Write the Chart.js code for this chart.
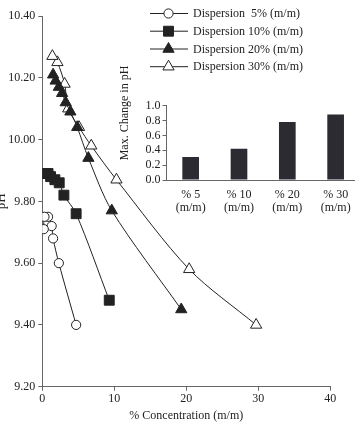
<!DOCTYPE html>
<html>
<head>
<meta charset="utf-8">
<script src="https://cdn.jsdelivr.net/npm/chart.js@4.4.1/dist/chart.umd.min.js"></script>
<style>
html, body { margin: 0; padding: 0; width: 355px; height: 425px; overflow: hidden; background: #fff; }
#main { position: absolute; left: -6px; top: 0; width: 361px; height: 425px; }
#inset { position: absolute; left: 100px; top: 60px; width: 270px; height: 160px; }
</style>
</head>
<body>
<canvas id="main" width="361" height="425"></canvas>
<canvas id="inset" width="270" height="160"></canvas>
<script>
// concentration (% m/m) and pH for each dispersion
const conc5 = [4.7, 2.3, 1.5, 1.3, 0.8, 0.3, 0.2];
const ph5 = [9.40, 9.60, 9.68, 9.72, 9.75, 9.75, 9.71];
const conc10 = [9.3, 4.7, 3.0, 2.35, 1.75, 1.15, 0.8, 0.35];
const ph10 = [9.48, 9.76, 9.82, 9.86, 9.87, 9.88, 9.89, 9.89];
const conc20 = [19.3, 9.65, 6.4, 4.85, 3.9, 3.25, 2.75, 2.3, 1.85, 1.5];
const ph20 = [9.45, 9.77, 9.94, 10.04, 10.09, 10.12, 10.15, 10.17, 10.19, 10.21];
const conc30 = [29.7, 20.4, 10.3, 6.8, 5.1, 3.6, 3.1, 2.1, 1.4];
const ph30 = [9.40, 9.58, 9.87, 9.98, 10.04, 10.10, 10.18, 10.25, 10.27];
const seriesNames = ["Dispersion  5% (m/m)", "Dispersion 10% (m/m)", "Dispersion 20% (m/m)", "Dispersion 30% (m/m)"];

// inset: max change in pH
const barLabels = [["% 5", "(m/m)"], ["% 10", "(m/m)"], ["% 20", "(m/m)"], ["% 30", "(m/m)"]];
const maxChange = [0.31, 0.42, 0.78, 0.88];

const FONT = "'Liberation Serif', 'Times New Roman', serif";
const INK = "#222";
const AXIS = "#666";
const SHIFT = 6; // main canvas sits 6px left of the page

function pts(xs, ys) {
    let out = [];
    for (let i = 0; i < xs.length; i++) {
        out.push({ x: xs[i], y: ys[i] });
    }
    return out;
}

const styles = [
    { pointStyle: "circle", radius: 4.6, fill: "#fff" },
    { pointStyle: "rect", radius: 7, fill: INK },
    { pointStyle: "triangle", radius: 6.5, fill: INK },
    { pointStyle: "triangle", radius: 6.5, fill: "#fff" },
];
const allData = [pts(conc5, ph5), pts(conc10, ph10), pts(conc20, ph20), pts(conc30, ph30)];

let datasets = [];
for (let j = 0; j < allData.length; j++) {
    datasets.push({
        label: seriesNames[j],
        data: allData[j],
        showLine: true,
        tension: 0.3,
        borderColor: INK,
        borderWidth: 1,
        pointStyle: styles[j].pointStyle,
        pointRadius: styles[j].radius,
        pointBackgroundColor: styles[j].fill,
        pointBorderColor: INK,
        pointBorderWidth: 1,
    });
}

// legend drawn by hand: short line with the marker in its middle
const legendPlugin = {
    id: "lineLegend",
    afterDraw(chart) {
        const ctx = chart.ctx;
        const rows = [13.5, 31.2, 49, 66.7];
        ctx.save();
        for (let j = 0; j < datasets.length; j++) {
            const y = rows[j];
            ctx.strokeStyle = INK;
            ctx.lineWidth = 1;
            ctx.beginPath();
            ctx.moveTo(150 + SHIFT, y);
            ctx.lineTo(188 + SHIFT, y);
            ctx.stroke();
            ctx.fillStyle = styles[j].fill;
            Chart.helpers.drawPoint(ctx, {
                pointStyle: styles[j].pointStyle,
                radius: styles[j].radius,
                rotation: 0,
                borderWidth: 1,
            }, 168.5 + SHIFT, y);
            ctx.fillStyle = INK;
            ctx.font = "12px " + FONT;
            ctx.textBaseline = "middle";
            ctx.textAlign = "left";
            ctx.fillText(seriesNames[j], 193 + SHIFT, y + 0.5);
        }
        ctx.restore();
    }
};

new Chart("main", {
    type: "scatter",
    data: { datasets },
    options: {
        responsive: false,
        animation: false,
        layout: { padding: { top: 16, right: 24.7, left: 0, bottom: 0 } },
        plugins: { legend: { display: false }, tooltip: { enabled: false } },
        scales: {
            x: {
                type: "linear",
                min: 0,
                max: 40,
                border: { color: AXIS, width: 1 },
                grid: { drawOnChartArea: false, tickLength: 4, color: AXIS },
                ticks: { stepSize: 10, color: INK, padding: 1, font: { family: FONT, size: 12 } },
                title: { display: true, text: "% Concentration (m/m)", color: INK, padding: { top: 0, bottom: 2 }, font: { family: FONT, size: 12 } },
                afterFit(scale) { scale.height = 38.3; },
            },
            y: {
                min: 9.2,
                max: 10.4,
                border: { color: AXIS, width: 1 },
                grid: { drawOnChartArea: false, tickLength: 4, color: AXIS },
                ticks: {
                    stepSize: 0.2,
                    autoSkip: false,
                    color: INK,
                    padding: 3,
                    font: { family: FONT, size: 12 },
                    callback: (v) => v.toFixed(2),
                },
                title: { display: true, text: "pH", color: INK, padding: 0, font: { family: FONT, size: 13 } },
                afterFit(scale) { scale.width = 48.3; },
            },
        },
    },
    plugins: [legendPlugin],
});

// inset y title sits above the middle of its axis, so it is drawn here
const insetTitle = {
    id: "insetTitle",
    afterDraw(chart) {
        const ctx = chart.ctx;
        ctx.save();
        ctx.translate(25, 53);
        ctx.rotate(-Math.PI / 2);
        ctx.fillStyle = INK;
        ctx.font = "12px " + FONT;
        ctx.textAlign = "center";
        ctx.textBaseline = "middle";
        ctx.fillText("Max. Change in pH", 0, 0);
        ctx.restore();
    }
};

new Chart("inset", {
    type: "bar",
    data: {
        labels: barLabels,
        datasets: [{
            data: maxChange,
            backgroundColor: "#2b2b31",
            borderWidth: 0,
            barPercentage: 0.345,
            categoryPercentage: 1,
        }],
    },
    options: {
        responsive: false,
        animation: false,
        layout: { padding: { top: 45.7, right: 10.2, left: 0, bottom: 0 } },
        plugins: { legend: { display: false }, tooltip: { enabled: false } },
        scales: {
            x: {
                border: { color: AXIS, width: 1 },
                grid: { display: false },
                ticks: { color: INK, padding: 0, font: { family: FONT, size: 12, lineHeight: 1.1 }, maxRotation: 0 },
                afterFit(scale) { scale.height = 40; },
            },
            y: {
                min: 0,
                max: 1,
                border: { color: AXIS, width: 1 },
                grid: { drawOnChartArea: false, tickLength: 4, color: AXIS },
                ticks: { stepSize: 0.2, autoSkip: false, color: INK, padding: 2, font: { family: FONT, size: 12 }, callback: (v) => v.toFixed(1) },
                afterFit(scale) { scale.width = 66.5; },
            },
        },
    },
    plugins: [insetTitle],
});
</script>
</body>
</html>
